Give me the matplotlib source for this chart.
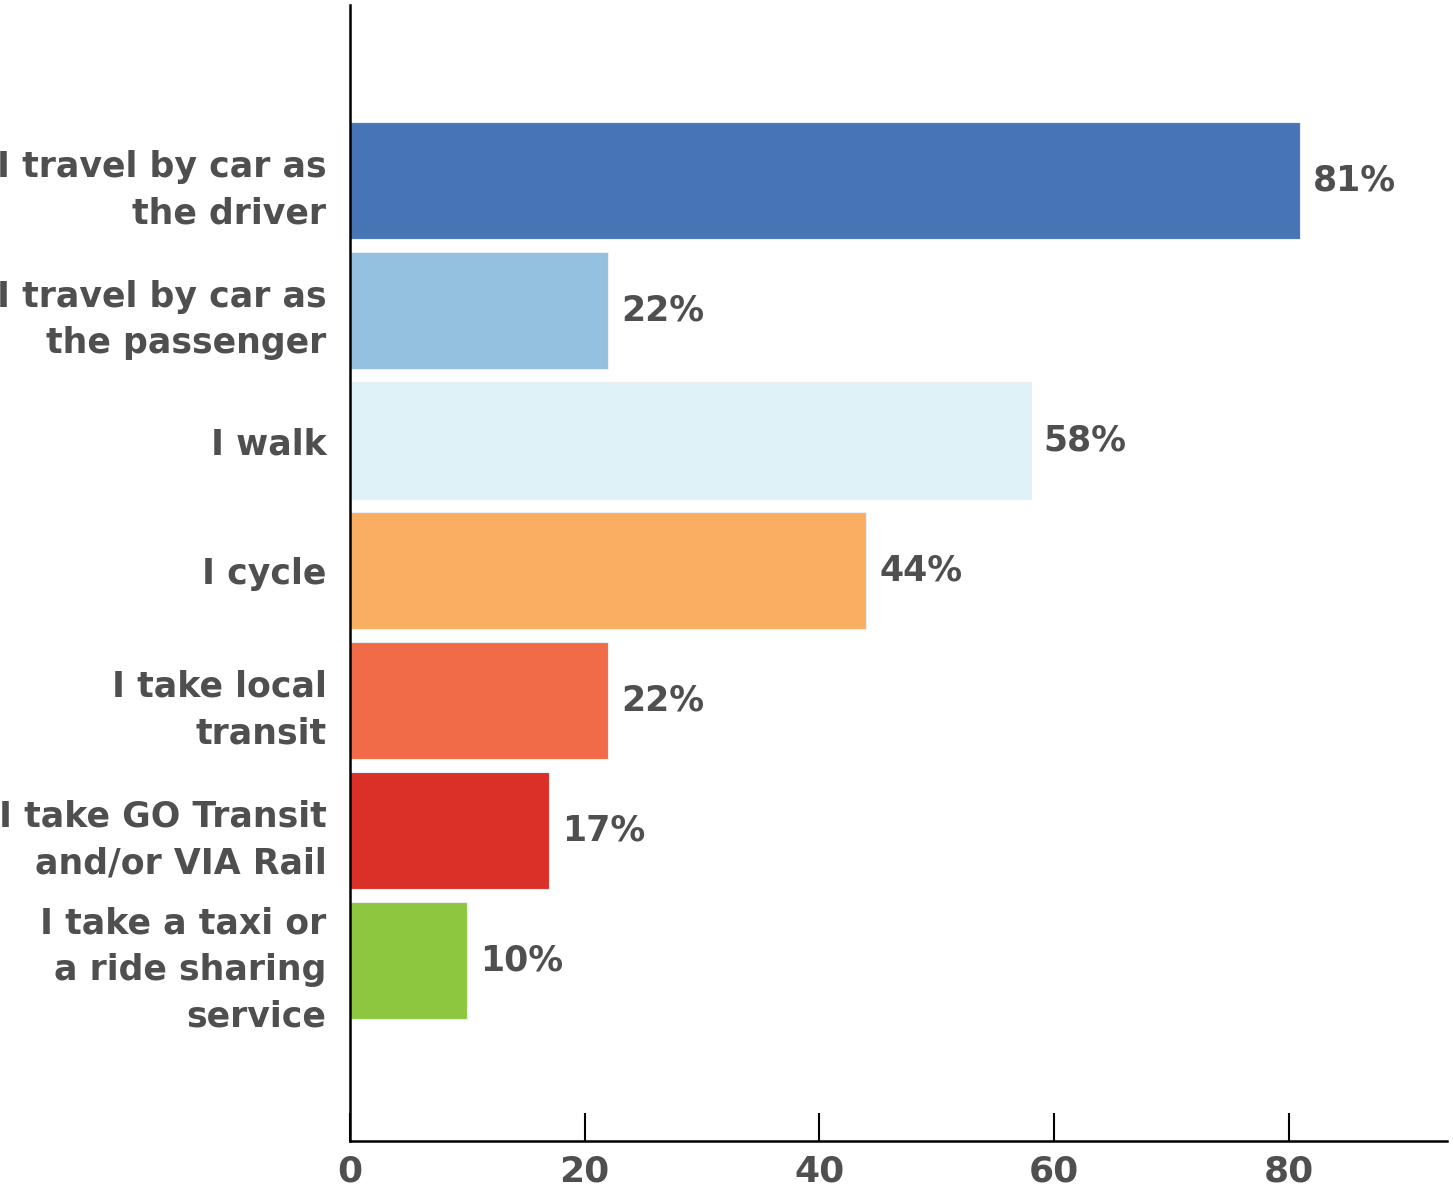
import matplotlib.pyplot as plt


# data
categories = [
    "I travel by car as\nthe driver",
    "I travel by car as\nthe passenger",
    "I walk",
    "I cycle",
    "I take local\ntransit",
    "I take GO Transit\nand/or VIA Rail",
    "I take a taxi or\na ride sharing\nservice",
]
values = [81, 22, 58, 44, 22, 17, 10]
bar_colors = ["#4674B4", "#94C1DE", "#DFF2F8", "#FAAE62", "#F26B47", "#DA3027", "#8DC63F"]
x_ticks = [0, 20, 40, 60, 80]

TEXT = "#4f4f4f"


def main():
    fig = plt.figure(figsize=(14.53, 11.93), dpi=100)
    ax = fig.add_axes([0.2409, 0.0436, 0.755, 0.952])

    pos = list(range(len(values)))
    ax.barh(pos, values, height=0.9, color=bar_colors,
            edgecolor="#e8eef2", linewidth=0.8)

    # value labels
    for p, v in zip(pos, values):
        ax.text(v + 1.1, p, f"{v}%", va="center", ha="left",
                fontsize=25, fontweight="bold", color=TEXT)

    ax.set_xlim(0, 93.5)
    ax.set_ylim(7.39, -1.35)

    ax.set_yticks(pos)
    ax.set_yticklabels(categories)
    ax.tick_params(axis="y", length=0, pad=17, labelsize=25, labelcolor=TEXT)
    for lab in ax.get_yticklabels():
        lab.set_fontweight("bold")
        lab.set_linespacing(1.45)

    ax.set_xticks(x_ticks)
    ax.set_xticklabels([str(t) for t in x_ticks])
    ax.tick_params(axis="x", direction="in", length=20, width=1.5,
                   pad=10, labelsize=26, labelcolor=TEXT)
    for lab in ax.get_xticklabels():
        lab.set_fontweight("bold")
        lab.set_family(["DejaVu Sans Condensed", "DejaVu Sans"])

    for side in ["top", "right"]:
        ax.spines[side].set_visible(False)
    for side in ["left", "bottom"]:
        ax.spines[side].set_linewidth(1.8)
        ax.spines[side].set_color("black")

    fig.savefig("out.png", dpi=100)


if __name__ == "__main__":
    main()
